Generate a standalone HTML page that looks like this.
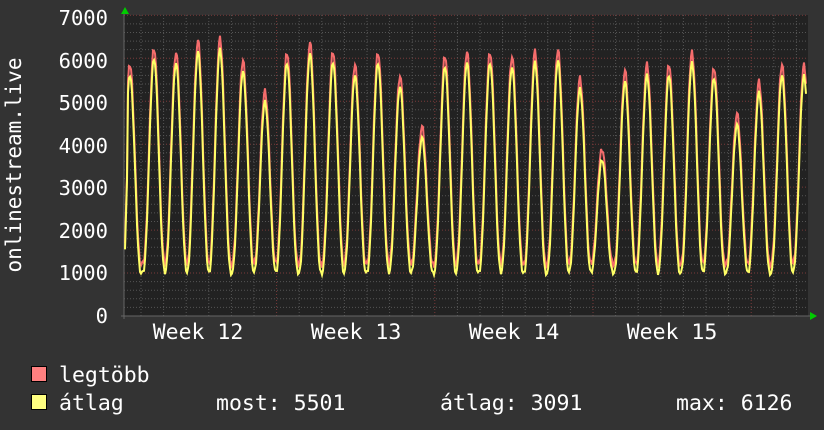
<!DOCTYPE html>
<html><head><meta charset="utf-8"><style>
body{margin:0;background:#333;}
svg{display:block}
text{font-family:"DejaVu Sans Mono","Liberation Mono",monospace;fill:#fff}
</style></head><body>
<svg id="s" width="824" height="430" xmlns="http://www.w3.org/2000/svg">
<rect width="824" height="430" fill="#333"/>
<rect x="124" y="15" width="684" height="301" fill="#222"/>
<g id="grid"></g>
<polyline id="pmax" fill="none" stroke="#f46c6c" stroke-width="2"/>
<polyline id="pavg" fill="none" stroke="#ffff66" stroke-width="2"/>
<polygon points="121,14 129,14 125,7" fill="#0c0"/>
<polygon points="810,312 810,320 817,316" fill="#0c0"/>
<g font-size="20.5" text-anchor="end">
<text x="108" y="25">7000</text><text x="108" y="68">6000</text><text x="108" y="110">5000</text>
<text x="108" y="153">4000</text><text x="108" y="195">3000</text><text x="108" y="238">2000</text>
<text x="108" y="280">1000</text><text x="108" y="323">0</text>
</g>
<g font-size="21.5" text-anchor="middle">
<text x="198" y="339">Week 12</text><text x="356" y="339">Week 13</text>
<text x="514" y="339">Week 14</text><text x="672" y="339">Week 15</text>
</g>
<text font-size="21" transform="translate(21,165) rotate(-90)" text-anchor="middle">onlinestream.live</text>
<rect x="31.5" y="366.5" width="15" height="15" fill="#ff8080" stroke="#000"/>
<rect x="31.5" y="394.5" width="15" height="15" fill="#ffff80" stroke="#000"/>
<g font-size="21.5">
<text x="59" y="382">legtöbb</text>
<text x="59" y="410">átlag</text>
<text x="216" y="410">most: 5501</text>
<text x="440" y="410">átlag: 3091</text>
<text x="676" y="410">max: 6126</text>
</g>
</svg>
<script>
var g=document.getElementById('grid'),h='';
function Y(v){return 316-v*0.04296;}
for(var v=200;v<=7000;v+=200){var y=Y(v).toFixed(1);var maj=v%1000==0;
h+='<line x1="124" x2="808" y1="'+y+'" y2="'+y+'" stroke="'+(maj?'#7a3a3a':'#555')+'" stroke-dasharray="1,2"/>';}
for(var i=0;i<31;i++){var x=141+i*22.6;if(x>808)break;var maj=Math.abs((x-277)%158)<1||Math.abs((x-277)%158-158)<1;
h+='<line y1="15" y2="316" x1="'+x.toFixed(1)+'" x2="'+x.toFixed(1)+'" stroke="'+(maj?'#7a3a3a':'#555')+'" stroke-dasharray="1,2"/>';}
h+='<line x1="121" x2="812" y1="316" y2="316" stroke="#666"/><line x1="124" x2="124" y1="12" y2="319" stroke="#666"/>';
g.innerHTML=h;
var px=[130,154,176,198,220,243,265,287,310,333,355,378,400,422,445,467,490,512,535,558,580,602,625,647,669,692,714,737,759,782,804];
var pk=[5850,6250,6150,6400,6450,5950,5250,6150,6350,6150,5850,6150,5600,4400,6050,6150,6150,6050,6150,6200,5550,3900,5700,5850,5850,6150,5800,4700,5450,5850,5850];
var a=[],b=[];
for(var x=125;x<=806;x++){
 var k=0;for(var j=0;j<px.length;j++)if(Math.abs(px[j]-x)<Math.abs(px[k]-x))k=j;
 var d=(x-px[k])/22.6;var c=(1+Math.cos(2*Math.PI*d))/2;var s=Math.pow(c,1.2);
 var jit=((x*37)%7-3)*25;
 var mx=1200+(pk[k]-1200)*s+jit, av=1000+(pk[k]-250-1000)*s+jit*0.6;
 if(x<128){mx=1700+ (x-125)*800;av=mx-150;}
 a.push(x+','+Y(mx).toFixed(1));b.push(x+','+Y(av).toFixed(1));}
document.getElementById('pmax').setAttribute('points',a.join(' '));
document.getElementById('pavg').setAttribute('points',b.join(' '));
</script>
</body></html>
